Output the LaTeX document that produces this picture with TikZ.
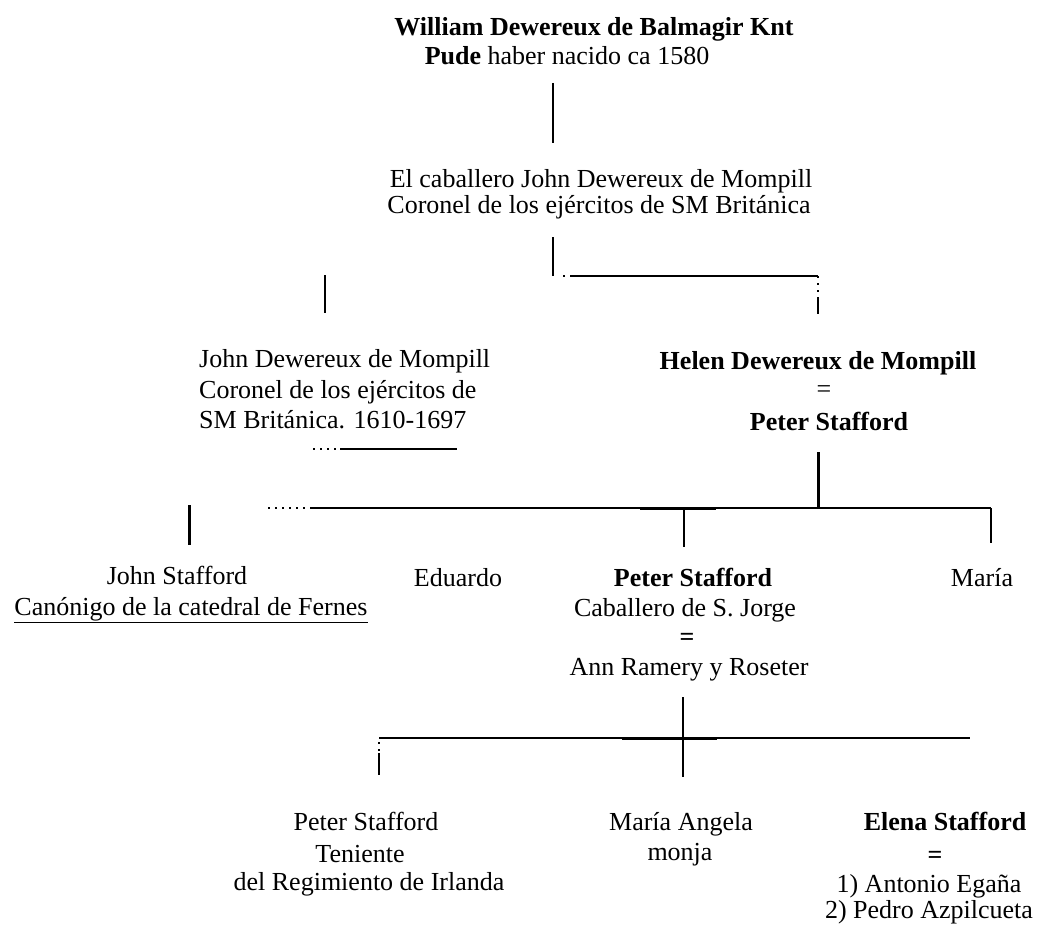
\documentclass[tikz,border=0pt]{standalone}
\usepackage{fontspec}
\setmainfont{Liberation Serif}
\begin{document}
\begin{tikzpicture}[x=1pt,y=-1pt,
  txt/.style={inner sep=0pt, anchor=base, font=\fontsize{26}{30}\selectfont},
  ltxt/.style={txt, anchor=base west},
  ln/.style={line width=1.5pt},
  thk/.style={line width=3pt},
  dots/.style={line width=1.5pt, dash pattern=on 2pt off 5pt}]
\useasboundingbox[fill=white] (0,0) rectangle (1041,928);
% texts
\node[txt] (w1) at (594,36) {\textbf{William Dewereux de Balmagir Knt}};
\node[txt] (w2) at (567,65) {\textbf{Pude} haber nacido ca 1580};
\node[txt] (c1) at (601,188) {El caballero John Dewereux de Mompill};
\node[txt] (c2) at (599,214) {Coronel de los ejércitos de SM Británica};
\node[ltxt] (j1) at (199,367) {John Dewereux de Mompill};
\node[ltxt] (j2) at (199,398) {Coronel de los ejércitos de};
\node[ltxt] (j3) at (199,428) {SM Británica. 1610-1697};
\node[txt] (h1) at (818,369) {\textbf{Helen Dewereux de Mompill}};
\node[txt] (h2) at (824,397) {=};
\node[txt] (h3) at (829,430) {\textbf{Peter Stafford}};
\node[txt] (js1) at (177,584) {John Stafford};
\node[txt] (js2) at (191,615) {\underline{Canónigo de la catedral de Fernes}};
\node[txt] (ed) at (458,586) {Eduardo};
\node[txt] (ps1) at (693,586) {\textbf{Peter Stafford}};
\node[txt] (ps2) at (685,616) {Caballero de S. Jorge};
\node[txt] (ps3) at (687,645) {\textbf{=}};
\node[txt] (ps4) at (689,675) {Ann Ramery y Roseter};
\node[txt] (ma) at (982,586) {María};
\node[txt] (b1) at (366,830) {Peter Stafford};
\node[txt] (b2) at (360,862) {Teniente};
\node[txt] (b3) at (369,890) {del Regimiento de Irlanda};
\node[txt] (a1) at (681,830) {María Angela};
\node[txt] (a2) at (680,860) {monja};
\node[txt] (e1) at (945,830) {\textbf{Elena Stafford}};
\node[txt] (e2) at (935,863) {\textbf{=}};
\node[txt] (e3) at (929,892) {1) Antonio Egaña};
\node[txt] (e4) at (929,918) {2) Pedro Azpilcueta};
% junction coordinates
\coordinate (v1a) at (553,83);
\coordinate (v1b) at (553,143);
\coordinate (v2a) at (553,237);
\coordinate (v2b) at (553,276);
\coordinate (h1s) at (563,276);
\coordinate (h1a) at (572,276);
\coordinate (h1b) at (818,276);
\coordinate (h1c) at (818,298);
\coordinate (h1d) at (818,314);
\coordinate (vla) at (325,275);
\coordinate (vlb) at (325,313);
\coordinate (ula) at (313,449);
\coordinate (ulb) at (340,449);
\coordinate (ulc) at (457,449);
\coordinate (vha) at (818,452);
\coordinate (vhb) at (818,508);
\coordinate (g1) at (268,508);
\coordinate (g2) at (312,508);
\coordinate (g3) at (991,508);
\coordinate (gt1) at (640,508);
\coordinate (gt2) at (716,508);
\coordinate (gla) at (189,505);
\coordinate (glb) at (189,545);
\coordinate (gma) at (684,508);
\coordinate (gmb) at (684,547);
\coordinate (gra) at (991,508);
\coordinate (grb) at (991,543);
\coordinate (pva) at (683,697);
\coordinate (pvb) at (683,777);
\coordinate (pl) at (379,738);
\coordinate (pr) at (970,738);
\coordinate (pt1) at (622,738);
\coordinate (pt2) at (717,738);
\coordinate (pla) at (379,742);
\coordinate (plb) at (379,753);
\coordinate (plc) at (379,775);
% connectors
\draw[ln] (v1a) -- (v1b);
\draw[ln] (v2a) -- (v2b);
\draw[dots] (h1s) -- (h1a);
\draw[ln] (h1a) -- (h1b);
\draw[dots] (h1b) -- (h1c);
\draw[ln] (h1c) -- (h1d);
\draw[ln] (vla) -- (vlb);
\draw[dots] (ula) -- (ulb);
\draw[ln] (ulb) -- (ulc);
\draw[thk] (vha) -- (vhb);
\draw[dots] (g1) -- (g2);
\draw[ln] (g2) -- (g3);
\draw[thk] (gt1) -- (gt2);
\draw[thk] (gla) -- (glb);
\draw[ln] (gma) -- (gmb);
\draw[ln] (gra) -- (grb);
\draw[ln] (pva) -- (pvb);
\draw[ln] (pl) -- (pr);
\draw[thk] (pt1) -- (pt2);
\draw[dots] (pla) -- (plb);
\draw[ln] (plb) -- (plc);
\end{tikzpicture}
\end{document}
